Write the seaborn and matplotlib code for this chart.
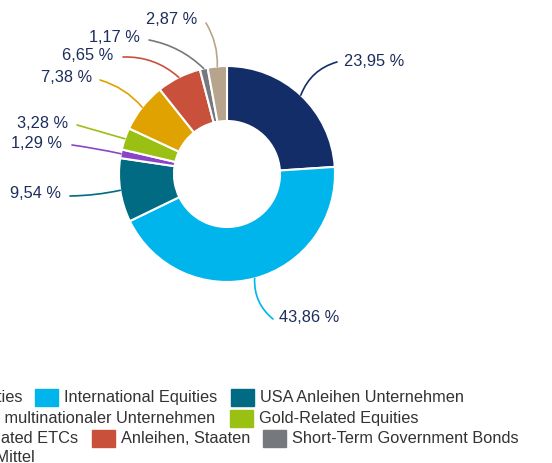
import matplotlib
matplotlib.use("Agg")
import matplotlib.pyplot as plt
from matplotlib.patches import Rectangle
import numpy as np
import seaborn as sns

# ---- data ----
categories = ["US Equities", "International Equities", "USA Anleihen Unternehmen",
              "Anleihen multinationaler Unternehmen", "Gold-Related Equities",
              "Gold-Related ETCs", "Anleihen, Staaten", "Short-Term Government Bonds",
              "Liquide Mittel"]
values = [23.95, 43.86, 9.54, 1.29, 3.28, 7.38, 6.65, 1.17, 2.87]
value_labels = ["23,95 %", "43,86 %", "9,54 %", "1,29 %", "3,28 %",
                "7,38 %", "6,65 %", "1,17 %", "2,87 %"]
colors = ["#132d68", "#00b5eb", "#006b82", "#8a45c6", "#9bc014",
          "#e0a200", "#c9513b", "#75787c", "#b6a48c"]

sns.set_theme(style="white")
plt.rcParams['font.family'] = ['Liberation Sans', 'DejaVu Sans']

W, H = 552, 464
fig = plt.figure(figsize=(W / 100, H / 100), dpi=100)
ax = fig.add_axes([0, 0, 1, 1])

def Y(v):
    return H - v

cx, cy, R, RIN = 227, 175, 108, 53
wedges, _ = ax.pie(values, colors=sns.color_palette(colors), startangle=90,
                   counterclock=False, radius=R, center=(cx, Y(cy)),
                   wedgeprops=dict(width=R - RIN, edgecolor="white", linewidth=1.5))
ax.set_xlim(0, W)
ax.set_ylim(0, H)
ax.set_aspect("equal")
ax.axis("off")

FS = 11.8
# label layout: (text x, text y, ha, connection rad, line-start x, y)
label_pos = [
    (344, 62, "left", 0.25, 337, 63),
    (279, 317, "left", -0.25, 273, 320),
    (61, 194, "right", 0.05, 70, 197),
    (62, 143, "right", -0.02, 72, 146),
    (68, 123, "right", 0.0, 77, 126),
    (92, 78, "right", -0.15, 100, 81),
    (113, 55, "right", -0.2, 123, 58),
    (140, 38, "right", -0.15, 149, 41),
    (197, 20, "right", -0.15, 206, 24),
]
text_color = "#1d2d5c"
cum = 0.0
total = sum(values)
for v, lab, col, (tx, ty, ha, rad, lx, ly) in zip(values, value_labels, colors, label_pos):
    mid = (cum + v / 2) / total * 360.0
    cum += v
    th = np.deg2rad(mid)
    px = cx + R * np.sin(th)
    py = cy - R * np.cos(th)
    ax.annotate("", xy=(px, Y(py)), xytext=(lx, Y(ly)),
                arrowprops=dict(arrowstyle="-", color=col, lw=1.2,
                                shrinkA=0, shrinkB=0,
                                connectionstyle=f"arc3,rad={rad}"))
    ax.text(tx, Y(ty), lab, ha=ha, va="center", fontsize=FS, color=text_color)

# ---- legend (flow layout, clipped on the left like the reference) ----
legend_rows = [
    [(0, "right", 22), (1, "sq", 35), (2, "sq", 231)],
    [(3, "right", 215), (4, "sq", 230)],
    [(5, "right", 78), (6, "sq", 92), (7, "sq", 263)],
    [(8, "right", 35)],
]
row_y = [398, 419, 439, 458]
leg_color = "#333333"
for row, ry in zip(legend_rows, row_y):
    for idx, kind, xpos in row:
        if kind == "sq":
            ax.add_patch(Rectangle((xpos, Y(ry) - 8.5), 23, 17, color=colors[idx],
                                   clip_on=False))
            ax.text(xpos + 29, Y(ry), categories[idx], ha="left", va="center",
                    fontsize=FS, color=leg_color)
        else:
            t = ax.text(xpos, Y(ry), categories[idx], ha="right", va="center",
                        fontsize=FS, color=leg_color)
            fig.canvas.draw()
            bb = t.get_window_extent()
            ax.add_patch(Rectangle((bb.x0 - 30, Y(ry) - 8.5), 23, 17,
                                   color=colors[idx], clip_on=False))

fig.savefig("out.png", dpi=100)
